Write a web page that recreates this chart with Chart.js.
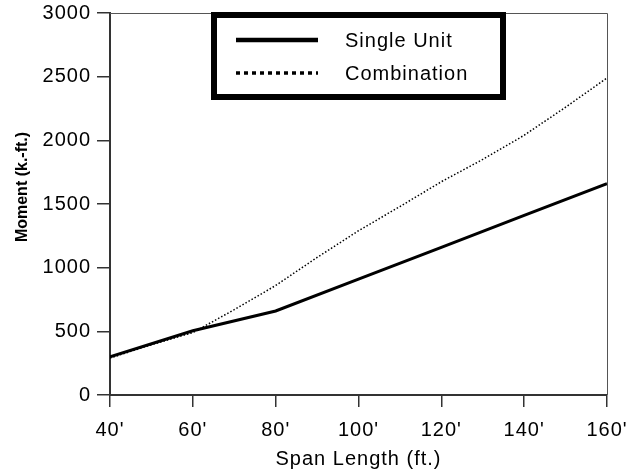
<!DOCTYPE html>
<html>
<head>
<meta charset="utf-8">
<script src="https://cdn.jsdelivr.net/npm/chart.js@4/dist/chart.umd.min.js"></script>
<style>
html, body { margin: 0; padding: 0; background: #fff; }
#wrap { width: 627px; height: 471px; }
</style>
</head>
<body>
<div id="wrap"><canvas id="c" width="627" height="471"></canvas></div>
<script>
var spans = [40, 60, 80, 100, 120, 140, 160]
var singleUnit = [300, 505, 660, 910, 1160, 1410, 1660]
var comboSpans = [40, 50, 60, 70, 80, 90, 100, 110, 120, 130, 140, 150, 160]
var combination = [290, 395, 490, 670, 860, 1080, 1290, 1480, 1675, 1850, 2040, 2260, 2490]
var yTicks = [0, 500, 1000, 1500, 2000, 2500, 3000]
var seriesNames = ["Single Unit", "Combination"]
var yTitle = "Moment (k.-ft.)"
var xTitle = "Span Length (ft.)"

var FONT = "'Liberation Sans', Arial, sans-serif"

function pairs(xs, ys) {
    var out = []
    for (var i = 0; i < xs.length; i++) {
        out.push({x: xs[i], y: ys[i]})
    }
    return out
}

// the source text is a bit wide, so open it up a little
var spacing = {
    id: "spacing",
    beforeUpdate: function (chart) { chart.ctx.letterSpacing = "1px" },
    beforeDraw: function (chart) { chart.ctx.letterSpacing = "1px" }
}

// frame on top/right, legend box, rotated y title
var extras = {
    id: "extras",
    afterDraw: function (chart) {
        var ctx = chart.ctx
        var a = chart.chartArea
        ctx.save()
        ctx.strokeStyle = "#555"
        ctx.lineWidth = 1
        ctx.beginPath()
        ctx.moveTo(a.left, a.top + 0.5)
        ctx.lineTo(a.right + 0.5, a.top + 0.5)
        ctx.lineTo(a.right + 0.5, a.bottom)
        ctx.stroke()

        // legend
        ctx.fillStyle = "#fff"
        ctx.fillRect(211, 12, 295, 88)
        ctx.strokeStyle = "#000"
        ctx.lineWidth = 6
        ctx.strokeRect(214, 15, 289, 82)
        var sets = chart.data.datasets
        var rows = [40, 73]
        for (var i = 0; i < sets.length; i++) {
            ctx.beginPath()
            ctx.lineWidth = i == 0 ? 4.5 : 3.5
            ctx.setLineDash(i == 0 ? [] : [4, 4])
            ctx.moveTo(236, rows[i])
            ctx.lineTo(318, rows[i])
            ctx.stroke()
        }
        ctx.setLineDash([])
        ctx.fillStyle = "#000"
        ctx.font = "20px " + FONT
        ctx.textBaseline = "middle"
        ctx.textAlign = "left"
        for (var j = 0; j < sets.length; j++) {
            ctx.fillText(sets[j].label, 345, rows[j] + 1)
        }

        // y axis title
        ctx.letterSpacing = "0px"
        ctx.translate(23, 187)
        ctx.rotate(-Math.PI / 2)
        ctx.textAlign = "center"
        ctx.font = "bold 16px " + FONT
        ctx.fillText(yTitle, 0, 0)
        ctx.restore()
    }
}

new Chart(document.getElementById("c"), {
    type: "line",
    data: {
        datasets: [
            {
                label: seriesNames[0],
                data: pairs(spans, singleUnit),
                borderColor: "#000",
                borderWidth: 3,
                pointRadius: 0,
                tension: 0
            },
            {
                label: seriesNames[1],
                data: pairs(comboSpans, combination),
                borderColor: "#000",
                borderWidth: 1.5,
                borderDash: [1.5, 2],
                pointRadius: 0,
                tension: 0
            }
        ]
    },
    options: {
        responsive: false,
        animation: false,
        events: [],
        layout: {padding: {top: 13, right: 20, left: 0, bottom: 0}},
        plugins: {
            legend: {display: false},
            tooltip: {enabled: false}
        },
        scales: {
            x: {
                type: "linear",
                min: 40,
                max: 160,
                afterBuildTicks: function (scale) {
                    scale.ticks = spans.map(function (v) { return {value: v} })
                },
                afterFit: function (scale) {
                    scale.height = 76
                    scale.paddingLeft = 0
                    scale.paddingRight = 0
                },
                grid: {drawOnChartArea: false, drawTicks: true, tickLength: 12, color: "#333", lineWidth: 1.5},
                border: {color: "#333", width: 2},
                ticks: {
                    color: "#000",
                    padding: 11,
                    maxRotation: 0,
                    font: {family: FONT, size: 20},
                    callback: function (v) { return v + "'" }
                },
                title: {
                    display: true,
                    text: xTitle,
                    color: "#000",
                    padding: {top: 0, bottom: 0},
                    font: {family: FONT, size: 20}
                }
            },
            y: {
                min: 0,
                max: 3000,
                afterBuildTicks: function (scale) {
                    scale.ticks = yTicks.map(function (v) { return {value: v} })
                },
                afterFit: function (scale) {
                    scale.width = 110
                    scale.paddingTop = 0
                    scale.paddingBottom = 0
                },
                grid: {drawOnChartArea: false, drawTicks: true, tickLength: 13, color: "#333", lineWidth: 1.5},
                border: {color: "#333", width: 2},
                ticks: {
                    color: "#000",
                    padding: 6,
                    font: {family: FONT, size: 20},
                    callback: function (v) { return String(v) }
                }
            }
        }
    },
    plugins: [spacing, extras]
})
</script>
</body>
</html>
